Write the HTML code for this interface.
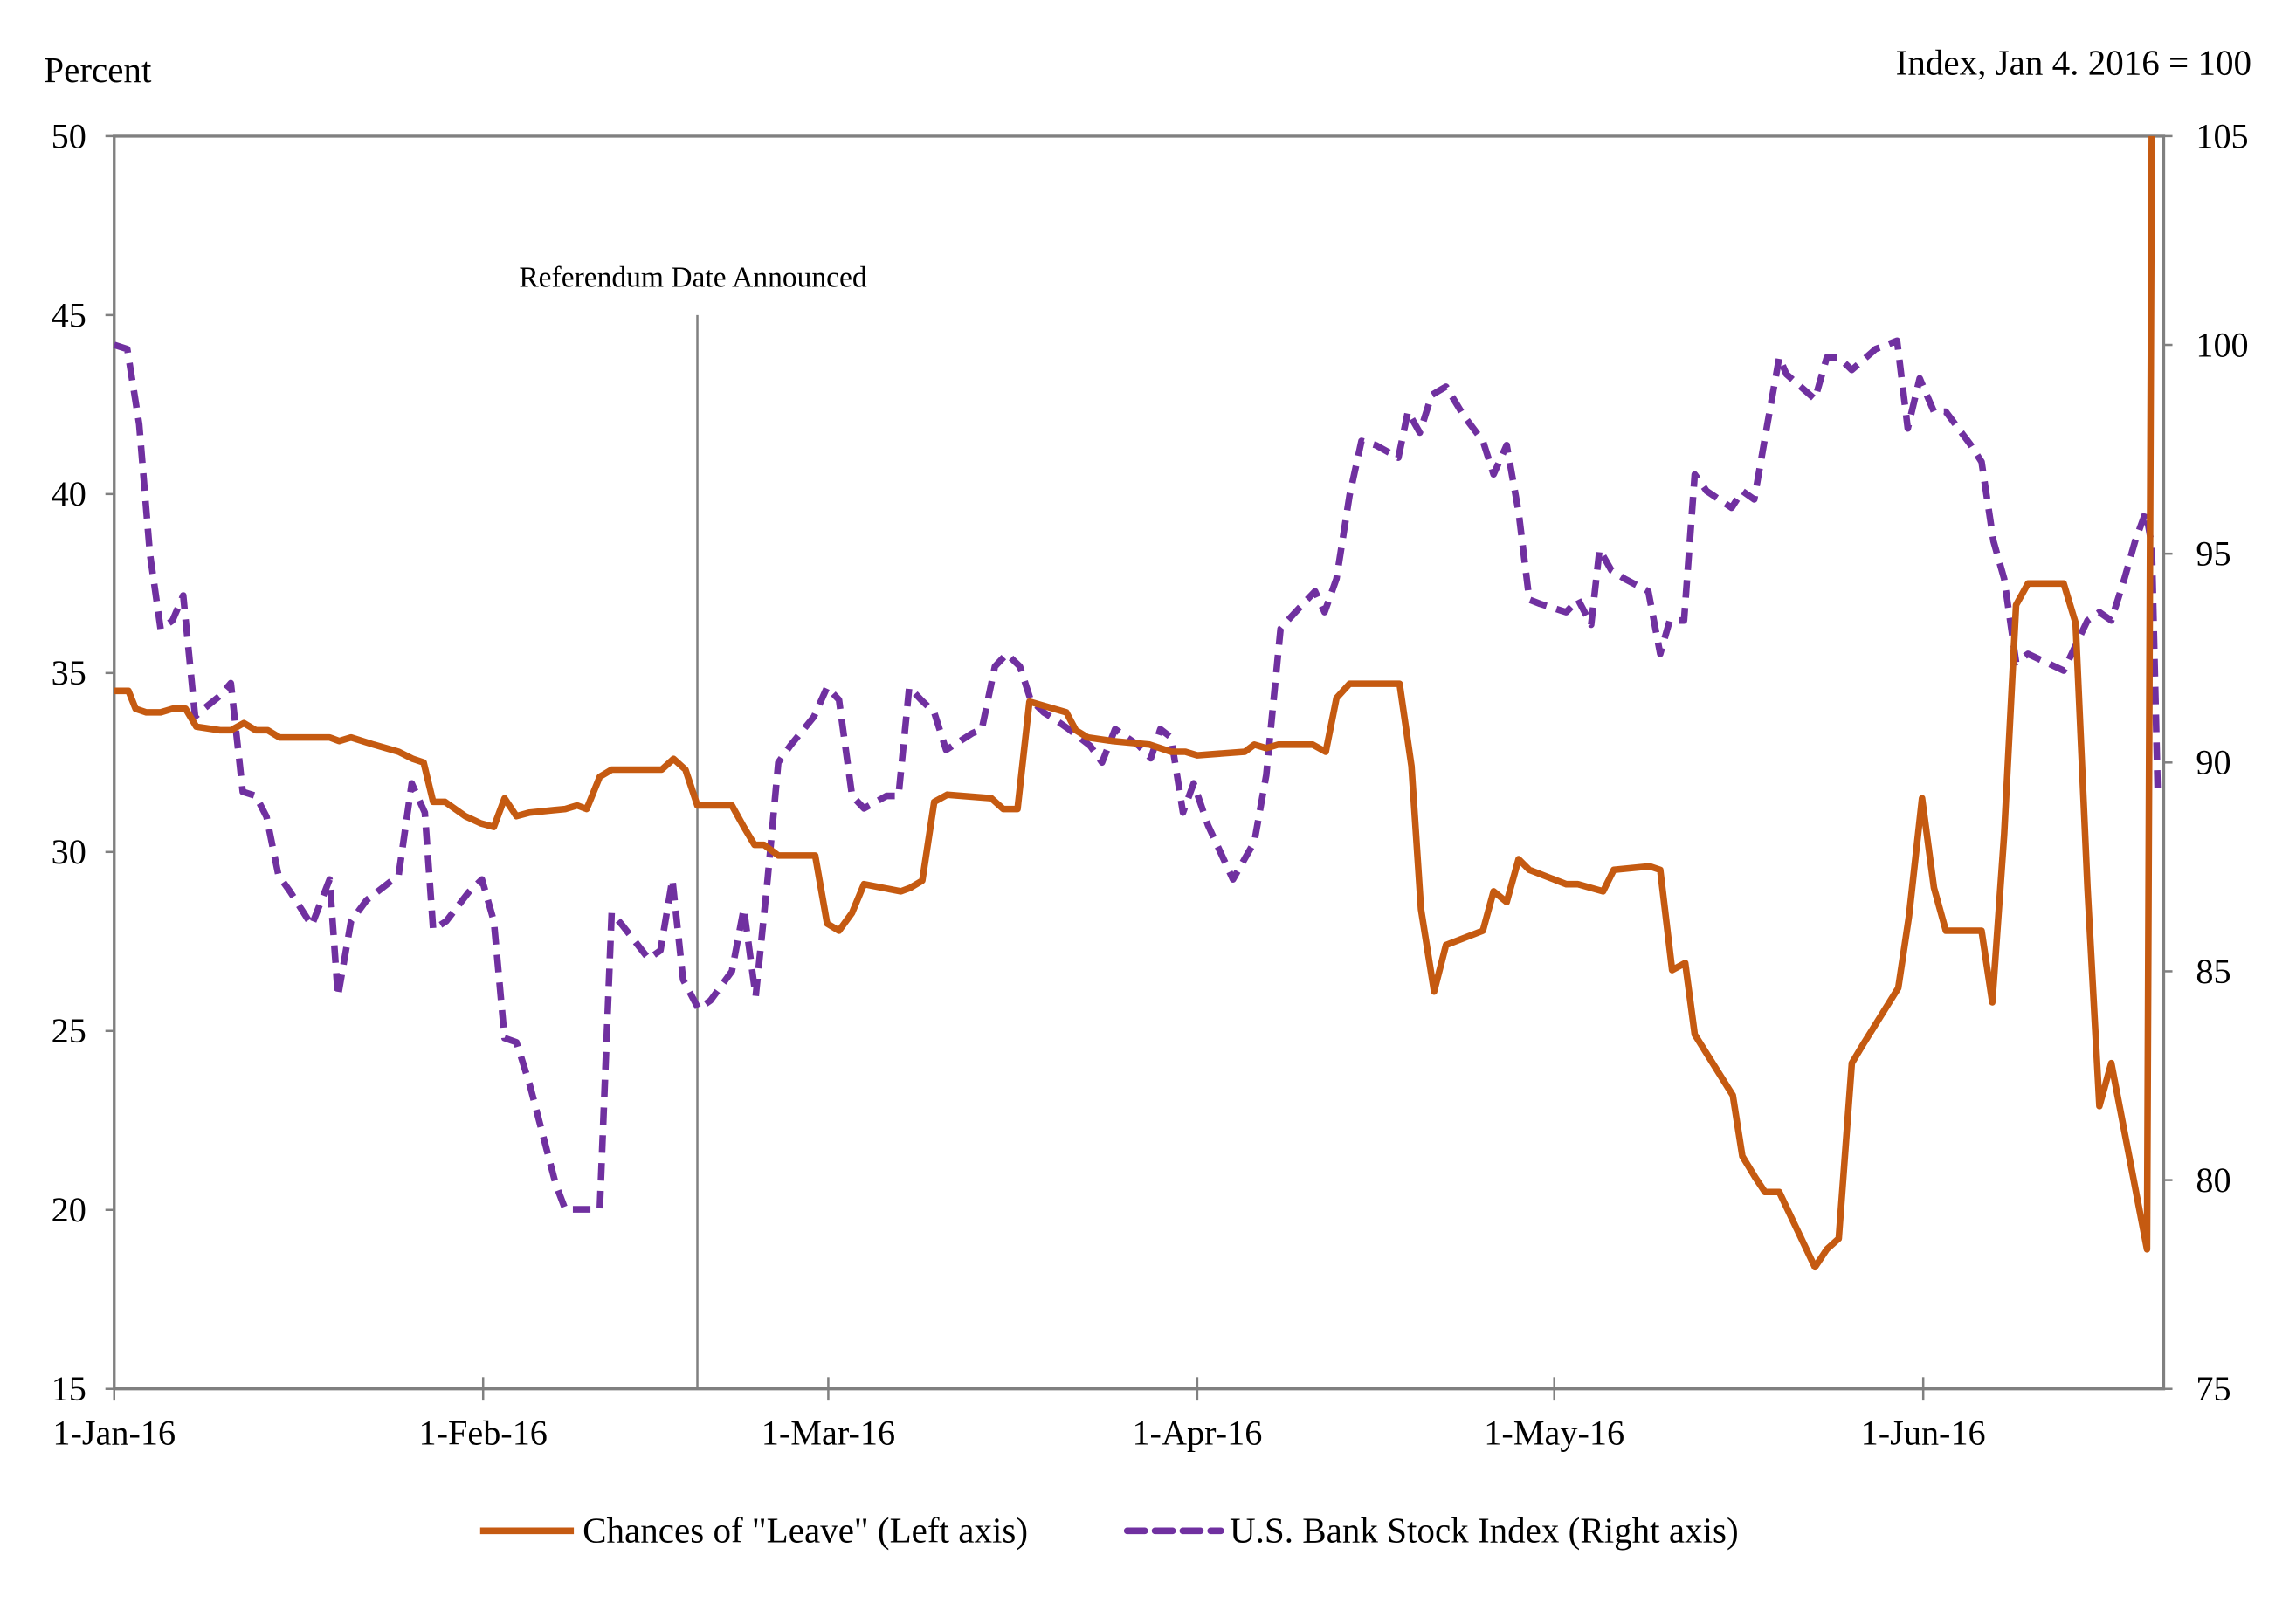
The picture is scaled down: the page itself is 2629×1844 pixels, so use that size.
<!DOCTYPE html>
<html><head><meta charset="utf-8"><style>
html,body{margin:0;padding:0;background:#fff;}
svg{display:block;font-family:"Liberation Serif",serif;}
</style></head><body>
<svg id="chart" width="2629" height="1844" viewBox="0 0 1568.4 1100.1" preserveAspectRatio="none" xmlns="http://www.w3.org/2000/svg">
<rect width="1568.4" height="1100.1" fill="#fff"/>
<text x="30" y="56" font-size="24.5">Percent</text>
<text x="1538" y="51" font-size="24.5" text-anchor="end">Index, Jan 4. 2016 = 100</text>
<g id="axes"></g>
<g id="series"></g>
<g>
<line x1="328" y1="1046" x2="392" y2="1046" stroke="#C55A11" stroke-width="4.5"/>
<text x="398" y="1054" font-size="24.5">Chances of "Leave" (Left axis)</text>
<line x1="770" y1="1046" x2="834" y2="1046" stroke="#7030A0" stroke-width="4.5" stroke-dasharray="12,7" stroke-linecap="round"/>
<text x="840" y="1054" font-size="24.5">U.S. Bank Stock Index (Right axis)</text>
</g>
</svg>
<script>
const leaveDays=[0,1.2,1.8,2.7,3.9,4.9,6,6.9,8.9,9.8,10.9,11.9,12.9,13.9,15,18.1,18.9,19.9,21.8,23.9,25.1,26,26.8,27.8,29.5,30.8,31.9,32.8,33.8,34.9,37.9,38.9,39.7,40.8,41.8,46,47,48,49,51.9,52.9,53.8,54.6,55.8,58.9,59.9,60.9,62,63,66.1,66.9,67.9,68.9,70,73.7,74.7,75.9,76.9,80,80.8,81.8,83.9,87,88.8,90,91,95,95.8,96.8,97.8,100.7,101.8,102.7,103.8,108,109,109.8,110.9,111.9,115,115.9,117,118,118.9,122,123,125.1,126,129,129.9,130.9,132,132.8,136,136.8,137.9,138.7,139.9,142.9,143.9,144.9,146,146.9,149.9,150.8,151.9,152.9,153.9,156.9,157.8,158.8,159.8,160.8,163.8,164.8,165.8,166.8,167.8,170.8,171.2];
const leaveValues=[34.5,34.5,34.0,33.9,33.9,34.0,34.0,33.5,33.4,33.4,33.6,33.4,33.4,33.2,33.2,33.2,33.1,33.2,33.0,32.8,32.6,32.5,31.4,31.4,31.0,30.8,30.7,31.5,31.0,31.1,31.2,31.3,31.2,32.1,32.3,32.3,32.6,32.3,31.3,31.3,30.7,30.2,30.2,29.9,29.9,28.0,27.8,28.3,29.1,28.9,29.0,29.2,31.4,31.6,31.5,31.2,31.2,34.2,33.9,33.4,33.2,33.1,33.0,32.8,32.8,32.7,32.8,33.0,32.9,33.0,33.0,32.8,34.3,34.7,34.7,32.4,28.4,26.1,27.4,27.8,28.9,28.6,29.8,29.5,29.1,29.1,28.9,29.5,29.6,29.5,26.7,26.9,24.9,23.2,21.5,20.9,20.5,20.5,18.4,18.9,19.2,24.1,24.6,26.2,28.2,31.5,29.0,27.8,27.8,25.8,30.5,36.9,37.5,37.5,36.4,29.0,22.9,24.1,18.9,50];
const bankDays=[0,1.1,2.1,3,3.9,4.9,5.8,6.8,7.6,8.9,9.8,10.8,11.9,12.8,13.8,14.8,16.6,18.1,18.8,19.9,21.2,23.9,25,26.1,26.8,27.9,29.8,30.9,31.9,32.8,33.8,34.9,37.1,37.9,40.8,41.8,42.7,44.9,45.9,46.9,47.8,49.1,50.1,51.9,52.9,53.9,54.9,55.8,56.8,58.8,59.9,60.9,62,63,64.9,65.9,66.8,67.8,68.9,69.9,72.1,72.9,74,75,76.1,77,78.1,79.2,80.2,82,83,84.1,86.1,87.1,87.9,88.8,89.8,90.7,91.9,94,94.8,95.8,96.8,98,98.6,99.9,100.9,101.7,102.7,103.8,104.8,106,107.9,108.7,109.7,110.7,111.9,113.4,115,115.9,117,118,118.9,119.8,122,123,124.1,124.8,125.8,126.9,128.9,129.9,130.7,131.9,132.8,133.8,135.9,136.8,137.8,138.9,139.9,140.5,142.9,143.9,144.9,146,148,149.8,150.7,151.7,152.9,153.9,156,156.9,157.9,158.8,159.8,160.8,163.8,164.8,165.8,166.8,167.8,168.9,169.8,170.7,171.2,171.7];
const bankValues=[100,99.9,98.1,95.0,93.2,93.4,94.0,91.1,91.3,91.6,91.9,89.3,89.2,88.7,87.3,86.9,86.1,87.2,84.4,86.2,86.7,87.3,89.5,88.8,86.0,86.2,86.9,87.2,86.2,83.4,83.3,82.3,79.9,79.3,79.3,86.4,86.1,85.3,85.5,87.2,84.8,84.1,84.3,85.0,86.5,84.4,87.2,90.0,90.4,91.1,91.8,91.5,89.2,88.9,89.2,89.2,91.8,91.5,91.2,90.3,90.7,90.8,92.3,92.6,92.3,91.5,91.2,91.0,90.8,90.4,90.0,90.8,90.4,90.1,90.8,90.6,88.8,89.5,88.5,87.2,87.6,88.1,89.7,93.2,93.4,93.8,94.1,93.6,94.4,96.4,97.7,97.6,97.3,98.4,97.9,98.8,99.0,98.3,97.7,96.9,97.6,96.0,93.9,93.8,93.6,93.9,93.3,95.1,94.6,94.4,94.1,92.6,93.4,93.4,96.9,96.5,96.1,96.5,96.3,98.1,99.7,99.3,98.7,99.7,99.7,99.4,99.9,100.1,98.0,99.2,98.4,98.4,97.6,97.2,95.3,94.4,92.4,92.6,92.2,92.8,93.4,93.6,93.4,94.4,95.3,96.0,95.2,89.3];
const leftTicks=[15,20,25,30,35,40,45,50];
const rightTicks=[75,80,85,90,95,100,105];
const monthLabels=["1-Jan-16","1-Feb-16","1-Mar-16","1-Apr-16","1-May-16","1-Jun-16"];
const monthDays=[0,31,60,91,121,152];
const annotationDay=[49];

const X0=78,X1=1478,Y0=949,Y1=93,DMAX=172.2;
const xs=d=>X0+(X1-X0)*d/DMAX;
const yl=v=>Y0-(Y0-Y1)*(v-15)/35;
const yr=v=>Y0-(Y0-Y1)*(v-75)/30;
const NS="http://www.w3.org/2000/svg";
function mk(tag,attrs,parent,txt){const e=document.createElementNS(NS,tag);for(const k in attrs)e.setAttribute(k,attrs[k]);if(txt!==undefined)e.textContent=txt;parent.appendChild(e);return e;}
const axes=document.getElementById('axes'),series=document.getElementById('series');
const G="#808080";
let e;
e=mk('polyline',{points:`${X0},${Y0} ${X0},${Y1} ${X1},${Y1} ${X1},${Y0} ${X0},${Y0}`,fill:'none',stroke:G,'stroke-width':2},axes);


leftTicks.forEach(v=>{
 e=mk('line',{x1:X0-6,x2:X0,y1:yl(v),y2:yl(v),stroke:G,'stroke-width':1.5},axes);
 
 
 e=mk('text',{x:59,y:yl(v)+8,'font-size':24,'text-anchor':'end'},axes,String(v));
 
 
});
rightTicks.forEach(v=>{
 e=mk('line',{x1:X1,x2:X1+6,y1:yr(v),y2:yr(v),stroke:G,'stroke-width':1.5},axes);
 
 
 e=mk('text',{x:1500,y:yr(v)+8,'font-size':24},axes,String(v));
 
 
});
monthDays.forEach((d,i)=>{
 e=mk('line',{x1:xs(d),x2:xs(d),y1:Y0-8,y2:Y0+8,stroke:G,'stroke-width':1.5},axes);
 
 
 e=mk('text',{x:xs(d),y:987,'font-size':24,'text-anchor':'middle'},axes,monthLabels[i]);
 
 
});
e=mk('line',{x1:xs(annotationDay[0]),x2:xs(annotationDay[0]),y1:yl(45),y2:Y0,stroke:G,'stroke-width':1.5},axes);


e=mk('text',{x:xs(annotationDay[0])-3,y:196,'font-size':20,'text-anchor':'middle'},axes,'Referendum Date Announced');


e=mk('polyline',{points:bankDays.map((d,i)=>xs(d)+','+yr(bankValues[i])).join(' '),fill:'none',stroke:'#7030A0','stroke-width':4.5,'stroke-dasharray':'12,7','stroke-linejoin':'round'},series);


e=mk('polyline',{points:leaveDays.map((d,i)=>xs(d)+','+yl(leaveValues[i])).join(' '),fill:'none',stroke:'#C55A11','stroke-width':4.5,'stroke-linejoin':'round'},series);


</script>
</body></html>
